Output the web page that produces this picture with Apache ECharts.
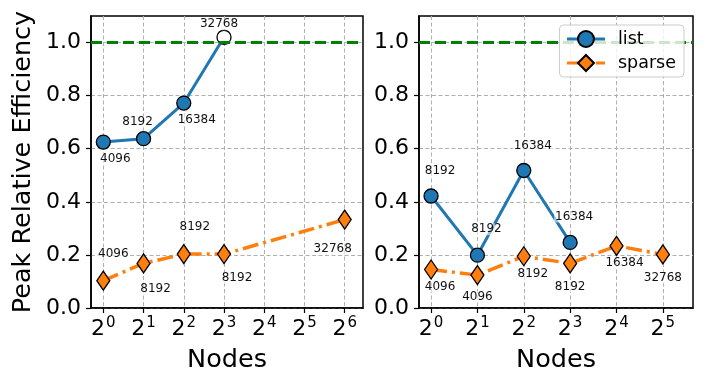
<!DOCTYPE html>
<html>
<head>
<meta charset="utf-8">
<script src="https://cdn.jsdelivr.net/npm/echarts@6/dist/echarts.min.js"></script>
<style>
  html, body { margin: 0; background: #fff; }
  #chart { width: 706px; height: 387px; }
</style>
</head>
<body>
<div id="chart"></div>
<script>
// left panel
const leftListNodes = [1, 2, 4, 8];
const leftListEff = [0.625, 0.638, 0.772, 1.02];
const leftListLabels = ['4096', '8192', '16384', '32768'];
const leftSparseNodes = [1, 2, 4, 8, 64];
const leftSparseEff = [0.103, 0.168, 0.203, 0.203, 0.333];
const leftSparseLabels = ['4096', '8192', '8192', '8192', '32768'];

// right panel
const rightListNodes = [1, 2, 4, 8];
const rightListEff = [0.422, 0.199, 0.518, 0.247];
const rightListLabels = ['8192', '8192', '16384', '16384'];
const rightSparseNodes = [1, 2, 4, 8, 16, 32];
const rightSparseEff = [0.145, 0.124, 0.195, 0.168, 0.234, 0.202];
const rightSparseLabels = ['4096', '4096', '8192', '8192', '16384', '32768'];

// ticks (x in powers of two)
const leftExpTicks = [0, 1, 2, 3, 4, 5, 6];
const rightExpTicks = [0, 1, 2, 3, 4, 5];
const yTicks = [0, 0.2, 0.4, 0.6, 0.8, 1.0];
const ideal = 1.0;

// label placement relative to each marker (px)
const leftListOff = [[12, 17], [-6, -17], [13, 17], [-5, -13]];
const leftSparseOff = [[10, -27], [12, 25], [11, -27], [13, 24], [-12, 29]];
const rightListOff = [[9, -25], [9, -26], [9, -25], [4, -26]];
const rightSparseOff = [[9, 17], [0, 22], [9, 18], [0, 23], [8, 17], [0, 23]];
const hollowIdx = 3; // left list, last point drawn open

const FONT = 'DejaVu Sans';
const BLUE = '#1f77b4', ORANGE = '#ff7f0e';

var myChart = echarts.init(document.getElementById('chart'));

function pts(nodes, eff, labels, offs, hollow) {
    return nodes.map((n, i) => {
        const item = {
            value: [Math.log2(n), eff[i]],
            label: { formatter: labels[i], offset: offs[i] }
        };
        if (i === hollow) item.itemStyle = { color: '#fff' };
        return item;
    });
}

const labelStyle = {
    show: true,
    position: 'inside',
    fontFamily: FONT,
    fontSize: 12,
    color: '#111',
    backgroundColor: 'rgba(255,255,255,0.55)',
    padding: [0, 1]
};

const idealLine = {
    silent: true,
    symbol: ['none', 'none'],
    label: { show: false },
    lineStyle: { color: '#008000', width: 3, type: [11, 5] },
    data: [{ yAxis: ideal }]
};

function listSeries(g, data) {
    return {
        name: 'list', type: 'line', xAxisIndex: g, yAxisIndex: g,
        symbol: 'circle', symbolSize: 14,
        lineStyle: { color: BLUE, width: 3 },
        itemStyle: { color: BLUE, borderColor: '#000', borderWidth: 1.3 },
        label: labelStyle,
        markLine: idealLine,
        z: 3,
        data
    };
}

function sparseSeries(g, data) {
    return {
        name: 'sparse', type: 'line', xAxisIndex: g, yAxisIndex: g,
        symbol: 'diamond', symbolSize: [13, 19],
        lineStyle: { color: ORANGE, width: 3.5, type: [16, 5, 3, 5] },
        itemStyle: { color: ORANGE, borderColor: '#000', borderWidth: 1.3 },
        label: labelStyle,
        z: 2,
        data
    };
}

function xAxis(g, min, max, ticks) {
    return {
        type: 'value', gridIndex: g, min, max,
        name: 'Nodes', nameLocation: 'middle', nameGap: 39,
        nameTextStyle: { fontFamily: FONT, fontSize: 25.5, color: '#000' },
        axisLine: { onZero: false, lineStyle: { color: '#000', width: 1.5 } },
        axisTick: { customValues: ticks, length: 5, lineStyle: { color: '#000', width: 1.2 } },
        axisLabel: {
            customValues: ticks, margin: 8,
            formatter: v => '{b|2}{s|' + Math.round(v) + '}',
            rich: {
                b: { fontFamily: FONT, fontSize: 22, color: '#000', verticalAlign: 'bottom' },
                s: { fontFamily: FONT, fontSize: 15, color: '#000', verticalAlign: 'bottom', padding: [0, 0, 9, 1] }
            }
        },
        splitLine: { show: true, lineStyle: { color: '#b0b0b0', width: 1, type: [4, 2.5] } }
    };
}

function yAxis(g, withName) {
    return {
        type: 'value', gridIndex: g, min: 0, max: 1.1,
        name: withName ? 'Peak Relative Efficiency' : '',
        nameLocation: 'middle', nameGap: 55,
        nameTextStyle: { fontFamily: FONT, fontSize: 25.5, color: '#000' },
        axisLine: { show: true, onZero: false, lineStyle: { color: '#000', width: 1.5 } },
        axisTick: { show: true, customValues: yTicks, length: 5, lineStyle: { color: '#000', width: 1.2 } },
        axisLabel: {
            customValues: yTicks, margin: 10,
            fontFamily: FONT, fontSize: 22, color: '#000',
            formatter: v => v.toFixed(1)
        },
        splitLine: { show: true, lineStyle: { color: '#b0b0b0', width: 1, type: [4, 2.5] } }
    };
}

var option = {
    animation: false,
    backgroundColor: '#fff',
    grid: [
        { left: 91, top: 16, width: 272, height: 292, show: true, borderColor: '#000', borderWidth: 1.5 },
        { left: 419, top: 16, width: 274, height: 292, show: true, borderColor: '#000', borderWidth: 1.5 }
    ],
    xAxis: [
        xAxis(0, -0.306, 6.455, leftExpTicks),
        xAxis(1, -0.26, 5.65, rightExpTicks)
    ],
    yAxis: [yAxis(0, true), yAxis(1, false)],
    legend: {
        data: ['list', 'sparse'],
        orient: 'vertical',
        right: 22, top: 25, z: 20,
        itemWidth: 38, itemHeight: 20, itemGap: 6,
        padding: [5, 8, 5, 6],
        backgroundColor: 'rgba(255,255,255,0.8)',
        borderColor: '#cccccc', borderWidth: 1, borderRadius: 4,
        lineStyle: { width: 3 },
        textStyle: { fontFamily: FONT, fontSize: 17.5, color: '#000', padding: [0, 0, 0, 8] }
    },
    series: [
        listSeries(0, pts(leftListNodes, leftListEff, leftListLabels, leftListOff, hollowIdx)),
        sparseSeries(0, pts(leftSparseNodes, leftSparseEff, leftSparseLabels, leftSparseOff, -1)),
        listSeries(1, pts(rightListNodes, rightListEff, rightListLabels, rightListOff, -1)),
        sparseSeries(1, pts(rightSparseNodes, rightSparseEff, rightSparseLabels, rightSparseOff, -1))
    ]
};

myChart.setOption(option);
</script>
</body>
</html>
